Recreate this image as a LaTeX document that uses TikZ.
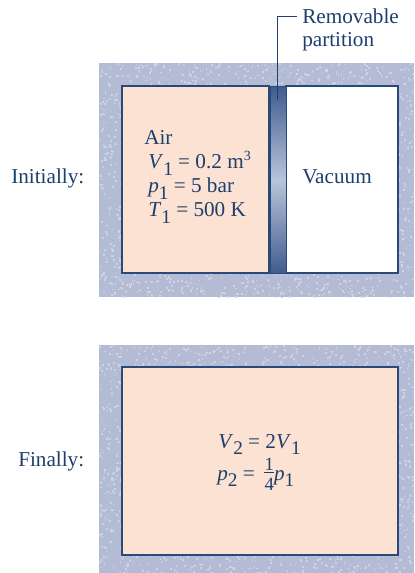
\documentclass[tikz,border=0pt]{standalone}
\usepackage{fontspec}
\setmainfont{Liberation Serif}
\definecolor{insul}{HTML}{B3BBD5}
\definecolor{speck}{HTML}{CDD2E4}
\definecolor{peach}{HTML}{FBE2D2}
\definecolor{ink}{HTML}{1D3F6E}
\definecolor{wall}{HTML}{274A78}
\definecolor{pdark}{HTML}{3F5C8E}
\definecolor{plight}{HTML}{B9C4DA}
\newcommand{\sbx}[1]{\raisebox{-0.32em}{\fontsize{14.5}{15}\selectfont #1}}
\newcommand{\spx}[1]{\raisebox{0.42em}{\fontsize{10.5}{12}\selectfont #1}}
\newcommand{\vv}[1]{\textit{#1}}
\newcommand{\quarter}{\rlap{\raisebox{7.5pt}{\fontsize{14}{15}\selectfont\hspace{0.3pt}1}}\rlap{\raisebox{-7.5pt}{\fontsize{14}{15}\selectfont\hspace{0.3pt}4}}\rule[5.4pt]{7.5pt}{0.5pt}}
\tikzset{
  txt/.style={text=ink,inner sep=0pt,font=\fontsize{15.9}{18}\selectfont,anchor=base west},
  outerbox/.style={fill=insul,draw=none},
  innerbox/.style={draw=wall,line width=1pt},
  speckdot/.style={fill=speck,draw=none},
  leader/.style={draw=ink,line width=0.75pt}
}
\begin{document}
\begin{tikzpicture}[x=0.75pt,y=-0.75pt]
\useasboundingbox[fill=white] (0,0) rectangle (414,573);
\pgfmathsetseed{4711}
% initial vessel
\fill[outerbox] (99,63) rectangle (414,297);
\begin{scope}
\clip (99,63) rectangle (414,297);
\foreach \i in {1,...,2600}{
  \pgfmathsetmacro{\spotx}{99+315*rnd}
  \pgfmathsetmacro{\spoty}{63+234*rnd}
  \pgfmathsetmacro{\spots}{1.1+1.1*rnd}
  \fill[speckdot] (\spotx,\spoty) rectangle +(\spots,\spots);
}
\end{scope}
\path[innerbox,fill=peach] (122,86) rectangle (269,273);
\path[innerbox,fill=white] (286,86) rectangle (398,273);
\node[draw=wall,line width=1pt,inner sep=0pt,minimum width=12pt,minimum height=140.25pt,
      anchor=north west,top color=pdark,bottom color=pdark,middle color=plight] (part) at (269.5,86) {};
\coordinate (ptip) at (277.7,100);
% final vessel
\fill[outerbox] (99,345) rectangle (414,573);
\begin{scope}
\clip (99,345) rectangle (414,573);
\foreach \i in {1,...,2500}{
  \pgfmathsetmacro{\spotx}{99+315*rnd}
  \pgfmathsetmacro{\spoty}{345+228*rnd}
  \pgfmathsetmacro{\spots}{1.1+1.1*rnd}
  \fill[speckdot] (\spotx,\spoty) rectangle +(\spots,\spots);
}
\end{scope}
\path[innerbox,fill=peach] (122,367) rectangle (398,555);
% labels
\node[txt] (rem) at (302,24) {Removable};
\node[txt] (par) at (302,47) {partition};
\coordinate (lstart) at (297,17);
\draw[leader] (lstart) -| (ptip);
\node[txt] (init) at (11,184) {Initially:};
\node[txt] (fin) at (18,466) {Finally:};
\node[txt] (vac) at (302,184) {Vacuum};
\node[txt] (air) at (144,145) {Air};
\node[txt] (v1) at (148,169) {\vv{V}\sbx{1} = 0.2 m\spx{3}};
\node[txt] (p1) at (148,193) {\vv{p}\sbx{1} = 5 bar};
\node[txt] (t1) at (148,217) {\vv{T}\sbx{1} = 500 K};
\node[txt] (v2) at (218,448) {\vv{V}\sbx{2} = 2\vv{V}\sbx{1}};
\node[txt] (p2) at (217,480) {\vv{p}\sbx{2} =\hspace{7pt}\quarter\vv{p}\sbx{1}};
\end{tikzpicture}
\end{document}
